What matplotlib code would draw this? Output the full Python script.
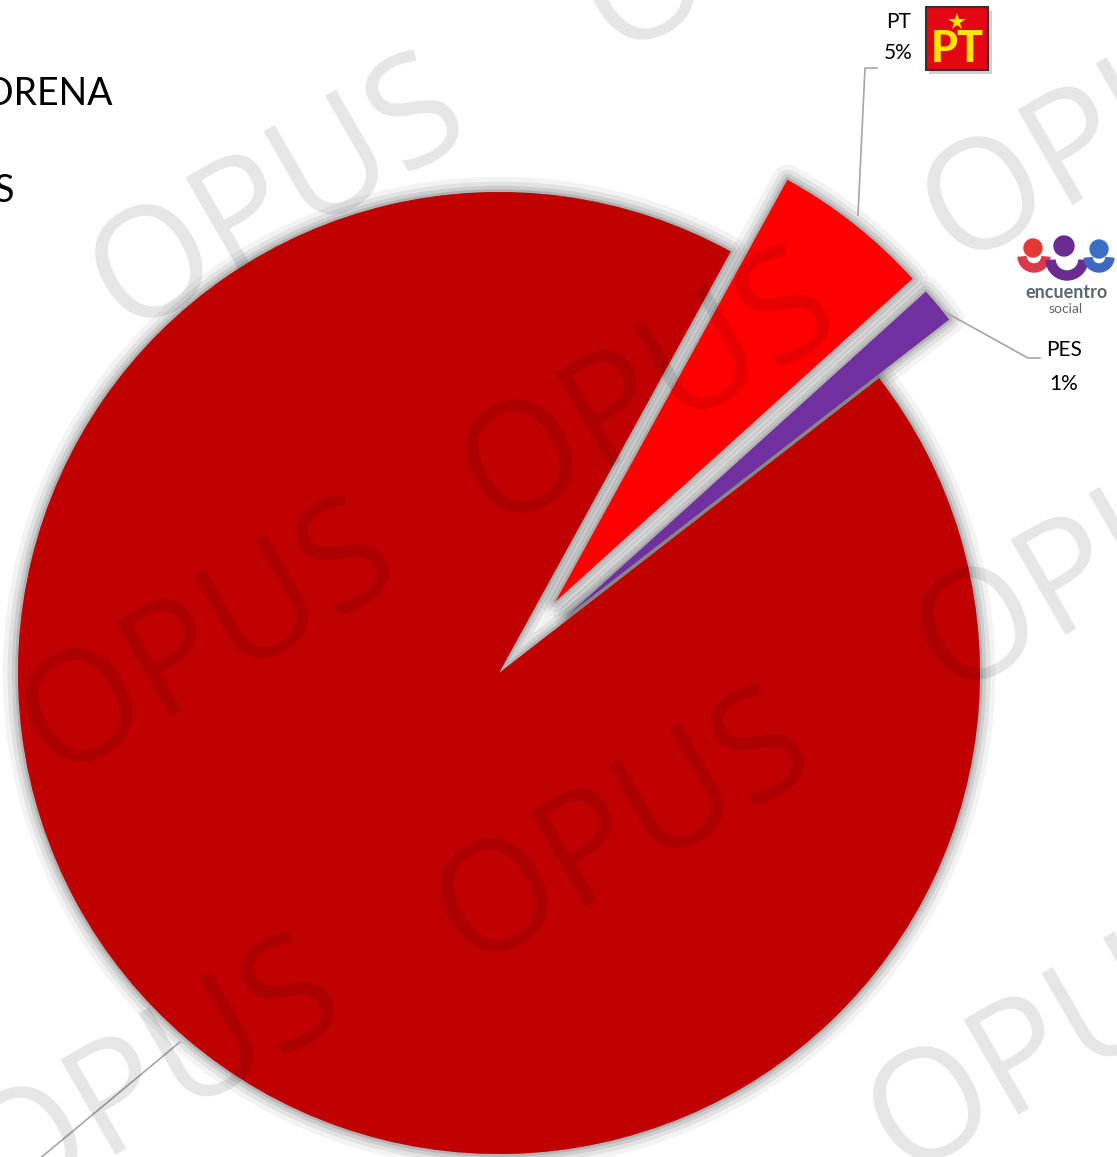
import matplotlib
matplotlib.use("Agg")
import matplotlib.pyplot as plt
from matplotlib.patches import Wedge, Rectangle, Circle
import numpy as np

W, H = 1117, 1157

# data
parties = ["PES", "PT", "MORENA"]
shares = [1.2, 5.3, 93.5]
colors = ["#7030A0", "#FF0000", "#C00000"]
explode = [0.19, 0.19, 0.0]   # fraction of the radius

# watermark centres (image pixels)
wm_x = [280, 650, 210, 625, 155, 1105, 1112, 1058, 772]
wm_y = [198, 393, 642, 832, 1080, 560, 130, 1040, -80]


def Y(y):
    # image pixel row -> data y
    return H - y


fig = plt.figure(figsize=(W / 100, H / 100), dpi=100)
ax = fig.add_axes([0, 0, 1, 1])

R = 481
wedges, _ = ax.pie(shares, colors=colors, explode=[e * R for e in explode],
                   startangle=37.8, counterclock=True, radius=R,
                   center=(499, Y(673)), wedgeprops=dict(linewidth=0))
for w in wedges:
    w.set_zorder(3)
    # soft grey halo behind each slice
    for lw, a in [(22, 0.06), (15, 0.09), (9, 0.13), (4, 0.18)]:
        h = Wedge(w.center, w.r, w.theta1, w.theta2, facecolor="#404040",
                  edgecolor="#404040", linewidth=lw, alpha=a, zorder=2,
                  joinstyle="round")
        ax.add_patch(h)

ax.set_xlim(0, W)
ax.set_ylim(0, H)
ax.set_aspect("auto")
ax.axis("off")

# leader lines
lc = "#A6A6A6"
ax.plot([858, 865, 877], [Y(215), Y(68), Y(68)], color=lc, lw=1.2, zorder=4)
ax.plot([945, 1028, 1040], [Y(312), Y(358), Y(358)], color=lc, lw=1.2, zorder=4)
ax.plot([180, 20], [Y(1042), Y(1175)], color=lc, lw=1.2, zorder=4)

fnt = "Lato"
pct = {p: "%d%%" % round(s) for p, s in zip(parties, shares)}
ax.text(898, Y(22), "PT", ha="center", va="center", fontsize=15, family=fnt, zorder=5)
ax.text(898, Y(53), pct["PT"], ha="center", va="center", fontsize=15, family=fnt, zorder=5)
ax.text(1064, Y(350), "PES", ha="center", va="center", fontsize=15, family=fnt, zorder=5)
ax.text(1064, Y(384), pct["PES"], ha="center", va="center", fontsize=15, family=fnt, zorder=5)

# cut-off texts at top left
ax.text(113, Y(94), "MORENA", ha="right", va="center", fontsize=27, family=fnt, zorder=5)
ax.text(15, Y(191), "PES", ha="right", va="center", fontsize=27, family=fnt, zorder=5)

# PT logo
ax.add_patch(Rectangle((929, Y(74)), 63, 63, facecolor="#000000", alpha=0.18,
                       linewidth=0, zorder=4))
ax.add_patch(Rectangle((926, Y(70)), 62, 63, facecolor="#E30613",
                       edgecolor="#333333", linewidth=1.5, zorder=5))
ax.plot(957, Y(22), marker="*", markersize=13, color="#FFE600",
        markeredgewidth=0, zorder=6)
ax.text(957, Y(49), "PT", ha="center", va="center", fontsize=31,
        family=fnt, weight="black", color="#FFE600", zorder=6)

# encuentro social logo
heads = [(1033, 248, 9, "#E53935"), (1064, 246, 10, "#6A2C91"), (1099, 249, 9, "#3B6FC6")]
bodies = [(1034, 256, 16, 8, "#D93A4A"), (1067, 259, 21, 9, "#6A2C91"), (1099, 257, 15, 8, "#3E68C0")]
for cx, cy, r, c in heads:
    ax.add_patch(Circle((cx, Y(cy)), r, color=c, zorder=5))
for cx, cy, r, wd, c in bodies:
    ax.add_patch(Wedge((cx, Y(cy)), r, 185, 355, width=wd, color=c, zorder=5))
ax.text(1066, Y(292), "encuentro", ha="center", va="center", fontsize=13,
        family=fnt, weight="bold", color="#5A6670", zorder=5)
ax.text(1066, Y(309), "social", ha="center", va="center", fontsize=10,
        family=fnt, color="#5A6670", zorder=5)

# watermark
for x, y in zip(wm_x, wm_y):
    ax.text(x, Y(y), "OPUS", ha="center", va="center", fontsize=110,
            family="Open Sans", rotation=30, rotation_mode="anchor",
            color="k", alpha=0.1, zorder=10)

fig.savefig("out.png", dpi=100)
